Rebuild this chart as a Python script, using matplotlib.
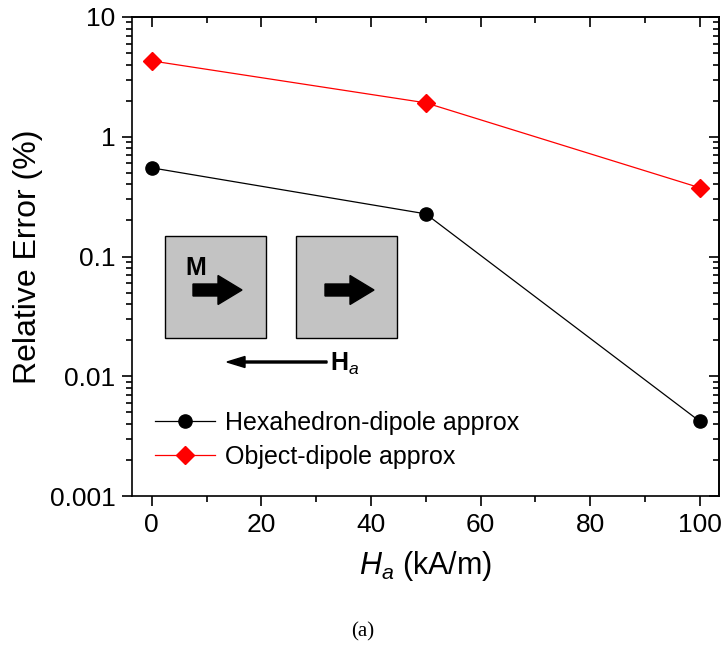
import matplotlib
matplotlib.use("Agg")
import matplotlib.pyplot as plt
import matplotlib.patches as mpatches
from matplotlib.ticker import LogLocator, MultipleLocator, FixedLocator, FixedFormatter

plt.rcParams['font.family'] = ['Liberation Sans', 'DejaVu Sans']
plt.rcParams['mathtext.fontset'] = 'custom'
plt.rcParams['mathtext.rm'] = 'Liberation Sans'
plt.rcParams['mathtext.it'] = 'Liberation Sans:italic'
plt.rcParams['mathtext.bf'] = 'Liberation Sans:bold'

# applied field (kA/m) and relative errors (%)
field = [0, 50, 100]
err_hexa = [0.55, 0.227, 0.0042]
err_object = [4.3, 1.92, 0.375]
series_labels = ["Hexahedron-dipole approx", "Object-dipole approx"]
ytick_vals = [0.001, 0.01, 0.1, 1, 10]
ytick_text = ["0.001", "0.01", "0.1", "1", "10"]

W, H = 726, 651
fig = plt.figure(figsize=(W / 100, H / 100), dpi=100)
ax = fig.add_axes([132 / W, 1 - 496 / H, (719 - 132) / W, (496 - 17) / H])

ax.plot(field, err_hexa, color='black', lw=0.9, marker='o', ms=9.5,
        label=series_labels[0])
ax.plot(field, err_object, color='red', lw=0.9, marker='D', ms=9.5,
        label=series_labels[1])

ax.set_yscale('log')
ax.set_ylim(0.001, 10)
ax.set_xlim(-3.6, 103.5)
ax.yaxis.set_major_locator(FixedLocator(ytick_vals))
ax.yaxis.set_major_formatter(FixedFormatter(ytick_text))
ax.yaxis.set_minor_locator(LogLocator(base=10, subs=range(2, 10)))
ax.xaxis.set_major_locator(MultipleLocator(20))
ax.xaxis.set_minor_locator(MultipleLocator(10))

for s in ax.spines.values():
    s.set_linewidth(1.2)
ax.tick_params(which='both', direction='out', width=1.2, labelsize=19,
               top=False, right=False)
ax.tick_params(which='major', length=7, pad=5)
ax.tick_params(which='minor', length=4)

# inward ticks on the top and right edges
for twin in (ax.secondary_xaxis('top'), ax.secondary_yaxis('right')):
    twin.tick_params(which='both', direction='in', width=1.2, labelsize=0)
    twin.tick_params(which='major', length=7)
    twin.tick_params(which='minor', length=4)
sx, sy = ax.child_axes[-2], ax.child_axes[-1]
sx.xaxis.set_major_locator(MultipleLocator(20))
sx.xaxis.set_minor_locator(MultipleLocator(10))
sx.set_xticklabels([])
sy.yaxis.set_major_locator(FixedLocator(ytick_vals))
sy.yaxis.set_minor_locator(LogLocator(base=10, subs=range(2, 10)))
sy.set_yticklabels([])
for s in list(sx.spines.values()) + list(sy.spines.values()):
    s.set_linewidth(1.2)

ax.set_ylabel("Relative Error (%)", fontsize=23, labelpad=5)
ax.set_xlabel("$H_a$ (kA/m)", fontsize=22, labelpad=9)

ax.legend(loc='upper left', bbox_to_anchor=(23 / 587, 0.178), frameon=False,
          fontsize=18, handlelength=2.4, handletextpad=0.4, labelspacing=0.41,
          borderaxespad=0.0, borderpad=0.0)

# schematic of the two magnetised cubes, drawn in pixel space
ov = fig.add_axes([0, 0, 1, 1], zorder=5)
ov.set_xlim(0, W)
ov.set_ylim(H, 0)
ov.axis('off')
for x0 in (165, 296):
    ov.add_patch(mpatches.Rectangle((x0, 236), 101, 102, facecolor='#c3c3c3',
                                    edgecolor='black', lw=1.0))
for x0 in (193, 325):
    ov.add_patch(mpatches.FancyArrow(x0, 290, 49, 0, width=12, head_width=29,
                                     head_length=24, length_includes_head=True,
                                     color='black'))
ov.text(185, 268, "M", fontsize=18, fontweight='bold', va='center', ha='left')
ov.add_patch(mpatches.FancyArrow(327, 362, -100, 0, width=2, head_width=11,
                                 head_length=18, length_includes_head=True,
                                 color='black'))
ov.text(330, 364, r"$\mathbf{H}_{a}$", fontsize=18, va='center', ha='left')

fig.text(363 / W, 1 - 632 / H, "(a)", fontsize=15, family='Liberation Serif',
         ha='center', va='center')

fig.savefig("out.png", dpi=100)
